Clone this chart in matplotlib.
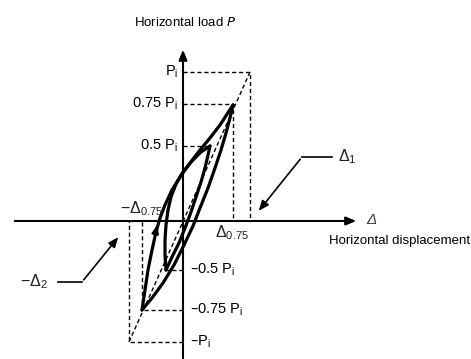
import matplotlib
matplotlib.use("Agg")
import matplotlib.pyplot as plt

plt.rcParams['font.family'] = ['Liberation Sans', 'DejaVu Sans']
plt.rcParams['mathtext.default'] = 'regular'

# plot units: displacement (right +), load (up +); origin at axis crossing
# load levels (upper side is drawn taller than lower side in the source)
load_pos = {'Pi': 149, '0.75': 117, '0.5': 75}
load_neg = {'Pi': -121, '0.75': -89, '0.5': -49}
disp_pos = {'d1': 67, 'd075': 50, 'd05': 27}
disp_neg = {'d2': -54, 'd075': -41, 'd05': -17}

# outer loop (0.75 Pi)
outer_up_x = [-41, -38, -35, -31, -27, -23, -18, -11, -3, 7, 17, 27, 37, 50]
outer_up_y = [-89, -69, -49, -29, -11, 3, 16, 31, 44, 58, 71, 83, 96, 116]
outer_dn_x = [50, 47, 43, 38, 32, 25, 17, 10, 1, -9, -20, -31, -41]
outer_dn_y = [116, 103, 88, 71, 53, 33, 13, -5, -24, -44, -62, -77, -89]

# inner loop (0.5 Pi)
inner_up_x = [-17, -18, -18, -17, -15, -12, -7, 0, 9, 18, 27]
inner_up_y = [-49, -34, -19, -4, 11, 24, 37, 49, 60, 69, 75]
inner_dn_x = [27, 25, 22, 18, 13, 8, 2, -4, -11, -17]
inner_dn_y = [75, 66, 53, 39, 24, 9, -7, -22, -36, -49]

fig = plt.figure(figsize=(4.71, 3.59), dpi=100)
ax = fig.add_axes([0, 0, 1, 1])
ax.set_xlim(-183, 288)
ax.set_ylim(-138, 221)
ax.axis('off')

# axes with arrows
ax.annotate('', xy=(176, 0), xytext=(-171, 0),
            arrowprops=dict(arrowstyle='-|>,head_length=0.6,head_width=0.25', lw=1.5, color='black'))
ax.annotate('', xy=(0, 174), xytext=(0, -140),
            arrowprops=dict(arrowstyle='-|>,head_length=0.6,head_width=0.25', lw=1.5, color='black'))

dash = dict(color='black', lw=1, linestyle=(0, (3, 2)))
# dashed guides, positive side
ax.plot([0, disp_pos['d1'], disp_pos['d1']], [load_pos['Pi'], load_pos['Pi'], 0], **dash)
ax.plot([0, disp_pos['d075'], disp_pos['d075']], [load_pos['0.75'], load_pos['0.75'], 0], **dash)
ax.plot([0, disp_pos['d05']], [load_pos['0.5'], load_pos['0.5']], **dash)
# negative side
ax.plot([0, disp_neg['d2'], disp_neg['d2']], [load_neg['Pi'], load_neg['Pi'], 0], **dash)
ax.plot([0, disp_neg['d075'], disp_neg['d075']], [load_neg['0.75'], load_neg['0.75'], 0], **dash)
ax.plot([0, disp_neg['d05']], [load_neg['0.5'], load_neg['0.5']], **dash)
# diagonal
ax.plot([disp_neg['d2'], disp_pos['d1']], [load_neg['Pi'], load_pos['Pi']], **dash)

# hysteresis loops
lw = 2.3
for xs, ys in [(outer_up_x, outer_up_y), (outer_dn_x, outer_dn_y),
               (inner_up_x, inner_up_y), (inner_dn_x, inner_dn_y)]:
    ax.plot(xs, ys, color='black', lw=lw, solid_joinstyle='round', solid_capstyle='round')
ax.annotate('', xy=(-25, -1), xytext=(-28, -14),
            arrowprops=dict(arrowstyle='-|>,head_length=0.5,head_width=0.2', lw=1.5, color='black'))

fs = 9.5
fl = 10.5
ax.text(2, 198, 'Horizontal load $\\mathit{P}$', fontsize=fs, ha='center', va='center')
ax.text(146, -20, 'Horizontal displacement', fontsize=fs, ha='left', va='center')
ax.text(183, 1, 'Δ', fontsize=11, ha='left', va='center', style='italic', color='#444444')

ax.text(-5, load_pos['Pi'], 'P$_{i}$', fontsize=fl, ha='right', va='center')
ax.text(-5, load_pos['0.75'], '0.75 P$_{i}$', fontsize=fl, ha='right', va='center')
ax.text(-5, load_pos['0.5'], '0.5 P$_{i}$', fontsize=fl, ha='right', va='center')
ax.text(7, load_neg['0.5'], '\u20130.5 P$_{i}$', fontsize=fl, ha='left', va='center')
ax.text(7, load_neg['0.75'], '\u20130.75 P$_{i}$', fontsize=fl, ha='left', va='center')
ax.text(7, load_neg['Pi'], '\u2013P$_{i}$', fontsize=fl, ha='left', va='center')

ax.text(32, -12, 'Δ$_{0.75}$', fontsize=11.5, ha='left', va='center', color='#222222')
ax.text(-63, 12, '\u2212Δ$_{0.75}$', fontsize=11.5, ha='left', va='center', color='#222222')
ax.text(155, 64, 'Δ$_{1}$', fontsize=11.5, ha='left', va='center', color='#222222')
ax.text(-163, -61, '\u2212Δ$_{2}$', fontsize=11.5, ha='left', va='center', color='#222222')

# leader arrows
ax.plot([149, 119], [64, 64], color='black', lw=1.2)
ax.annotate('', xy=(74, 8), xytext=(119, 64),
            arrowprops=dict(arrowstyle='-|>,head_length=0.6,head_width=0.25', lw=1.2, color='black'))
ax.plot([-125, -101], [-61, -61], color='black', lw=1.2)
ax.annotate('', xy=(-63, -14), xytext=(-101, -61),
            arrowprops=dict(arrowstyle='-|>,head_length=0.6,head_width=0.25', lw=1.2, color='black'))

fig.savefig('out.png', dpi=100)
